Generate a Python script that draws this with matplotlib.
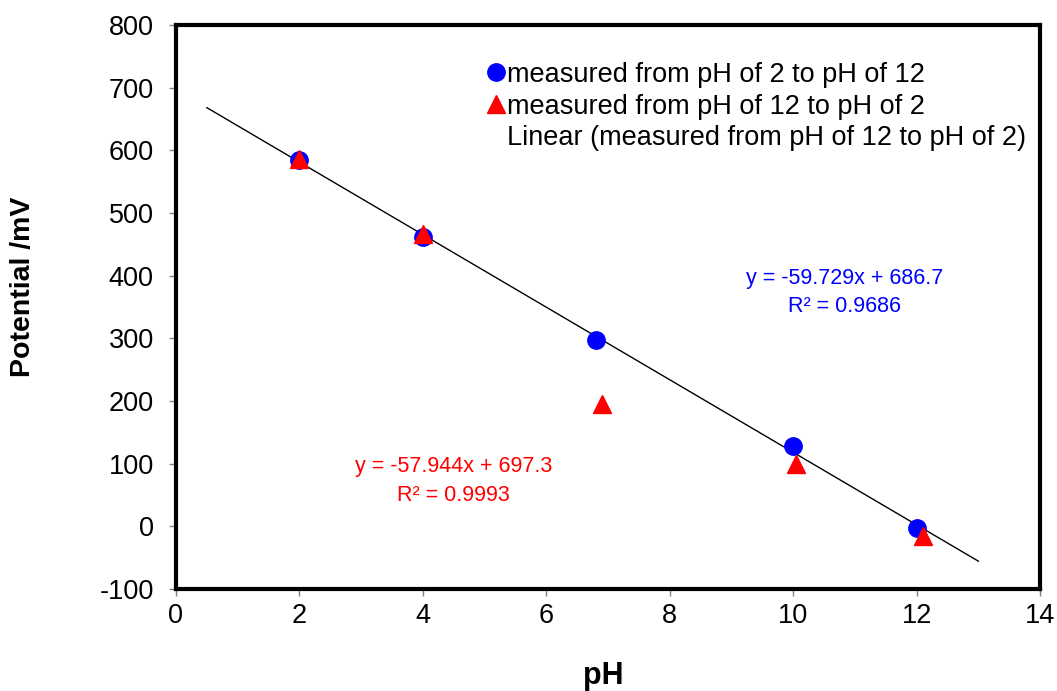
import matplotlib.pyplot as plt
from matplotlib.lines import Line2D

plt.rcParams['font.family'] = ['Liberation Sans', 'DejaVu Sans']
plt.rcParams['axes.unicode_minus'] = False

# measured from pH 2 -> 12
ph_up = [2.0, 4.0, 6.8, 10.0, 12.0]
mv_up = [584, 462, 297, 128, -3]
# measured from pH 12 -> 2
ph_down = [2.0, 4.0, 6.9, 10.05, 12.1]
mv_down = [587, 467, 195, 100, -15]

# trendline shown on chart
slope, intercept = -57.944, 697.3
trend_x = [0.5, 13.0]

eq_up = 'y = -59.729x + 686.7\nR² = 0.9686'
eq_down = 'y = -57.944x + 697.3\nR² = 0.9993'

fig = plt.figure(figsize=(10.57, 6.91), dpi=100)
ax = fig.add_axes([0.1665, 0.148, 0.8175, 0.8155])

ax.plot(ph_up, mv_up, 'o', color='#0000ff', markersize=12.5, zorder=3,
        label='measured from pH of 2 to pH of 12')
ax.plot(ph_down, mv_down, '^', color='#ff0000', markersize=12.5, zorder=4,
        label='measured from pH of 12 to pH of 2')
ax.plot(trend_x, [slope * x + intercept for x in trend_x], color='black', lw=1, zorder=2)

handles, labels = ax.get_legend_handles_labels()
handles.append(Line2D([], [], color='none'))
labels.append('Linear (measured from pH of 12 to pH of 2)')
ax.legend(handles, labels, loc='upper left', bbox_to_anchor=(0.363, 0.935),
          frameon=False, fontsize=19.5, handlelength=0.45, handletextpad=0.2,
          labelspacing=0.21, borderaxespad=0, borderpad=0)

ax.text(10.83, 373, eq_up, color='#0000ff', fontsize=15.5, ha='center', va='center',
        linespacing=1.4)
ax.text(4.5, 72, eq_down, color='#ff0000', fontsize=15.5, ha='center', va='center',
        linespacing=1.45)

ax.set_xlim(0, 14)
ax.set_ylim(-100, 800)
ax.set_xticks(range(0, 15, 2))
ax.set_yticks(range(-100, 801, 100))
ax.tick_params(labelsize=19.5, direction='out', length=5, width=1, color='#808080', pad=5)
ax.tick_params(axis='y', pad=11)
for s in ax.spines.values():
    s.set_linewidth(3)

ax.set_xlabel('pH', fontsize=22, fontweight='bold', va='center')
ax.xaxis.set_label_coords(0.495, -0.155)
ax.set_ylabel('Potential /mV', fontsize=20.5, fontweight='bold', va='center')
ax.yaxis.set_label_coords(-0.177, 0.536)

fig.savefig('out.png', dpi=100)
